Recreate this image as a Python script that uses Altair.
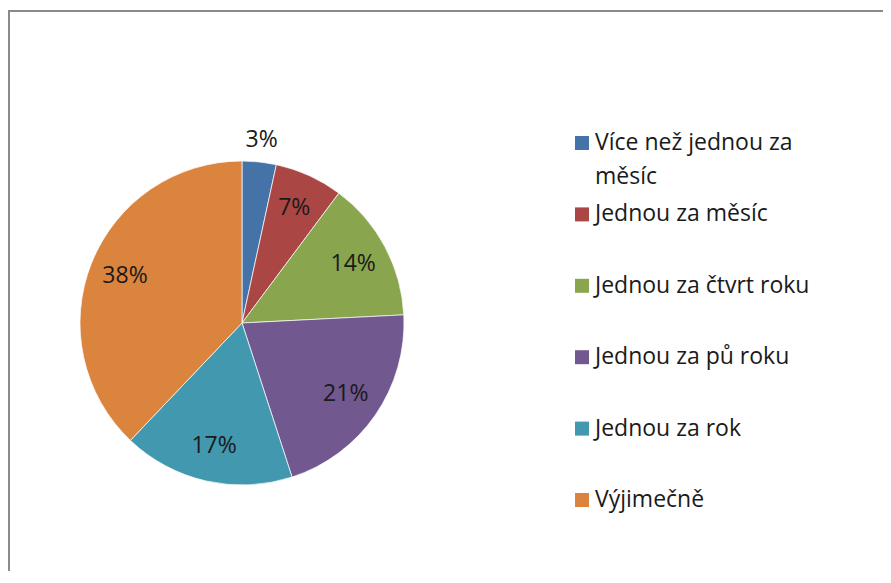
import altair as alt
import pandas as pd

categories = [
    "Více než jednou za měsíc",
    "Jednou za měsíc",
    "Jednou za čtvrt roku",
    "Jednou za pů roku",
    "Jednou za rok",
    "Výjimečně",
]
legend_labels = [
    "Více než jednou za\nměsíc",
    "Jednou za měsíc",
    "Jednou za čtvrt roku",
    "Jednou za pů roku",
    "Jednou za rok",
    "Výjimečně",
]
values = [3.4, 6.8, 14.0, 20.8, 17.1, 37.9]
colors = ["#4572A7", "#AA4643", "#89A54E", "#71588F", "#4198AF", "#DB843D"]

df = pd.DataFrame({
    "cat": categories,
    "legend": legend_labels,
    "value": values,
    "order": list(range(len(categories))),
})

FONT = "Open Sans"
CX, CY, R = 234, 312, 162
W, H = 875, 560

color = alt.Color("cat:N", scale=alt.Scale(domain=categories, range=colors), legend=None)

base = alt.Chart(df)

pie = base.mark_arc(stroke="white", strokeWidth=1, strokeOpacity=0.7).encode(
    theta=alt.Theta("value:Q", stack=True),
    color=color,
    order=alt.Order("order:Q"),
    x=alt.value(CX),
    y=alt.value(CY),
    radius=alt.value(R),
)

labels = base.transform_joinaggregate(
    total="sum(value)"
).transform_window(
    cum="sum(value)", sort=[alt.SortField("order")], frame=[None, 0]
).transform_calculate(
    mid="datum.cum - datum.value / 2",
    share="datum.value / datum.total",
    r="datum.value < 5 ? 184 : 126",
).mark_text(
    font=FONT, fontSize=23, color="#1a1a1a", align="center", baseline="middle"
).encode(
    theta=alt.Theta("mid:Q", stack=None),
    text=alt.Text("share:Q", format=".0%"),
    x=alt.value(CX),
    y=alt.value(CY),
    radius=alt.Radius("r:Q", scale=None),
)

yscale = alt.Scale(domain=categories, range=[132, 489], padding=0)

leg_sq = base.mark_square(size=196, opacity=1).encode(
    x=alt.value(574),
    y=alt.Y("cat:N", scale=yscale, axis=None),
    color=color,
)

leg_txt = base.mark_text(
    font=FONT, fontSize=23, color="#1a1a1a", align="left", baseline="middle",
    lineBreak="\n", lineHeight=34,
).encode(
    x=alt.value(587),
    y=alt.Y("cat:N", scale=yscale, axis=None),
    text="legend:N",
)

left_edge = base.mark_rule(color="#8a8a8a", strokeWidth=2).encode(
    x=alt.value(1), y=alt.value(-1), y2=alt.value(H)
)
top_edge = base.mark_rule(color="#8a8a8a", strokeWidth=2).encode(
    x=alt.value(0), x2=alt.value(W), y=alt.value(0)
)

chart = alt.layer(pie, labels, leg_sq, leg_txt, left_edge, top_edge).properties(
    width=W,
    height=H,
    autosize=alt.AutoSizeParams(type="none"),
    padding={"left": 0, "top": 3, "right": 0, "bottom": 0},
).configure_view(
    strokeWidth=0
)

chart.save("out.html", embed_options={"renderer": "svg", "actions": False})
